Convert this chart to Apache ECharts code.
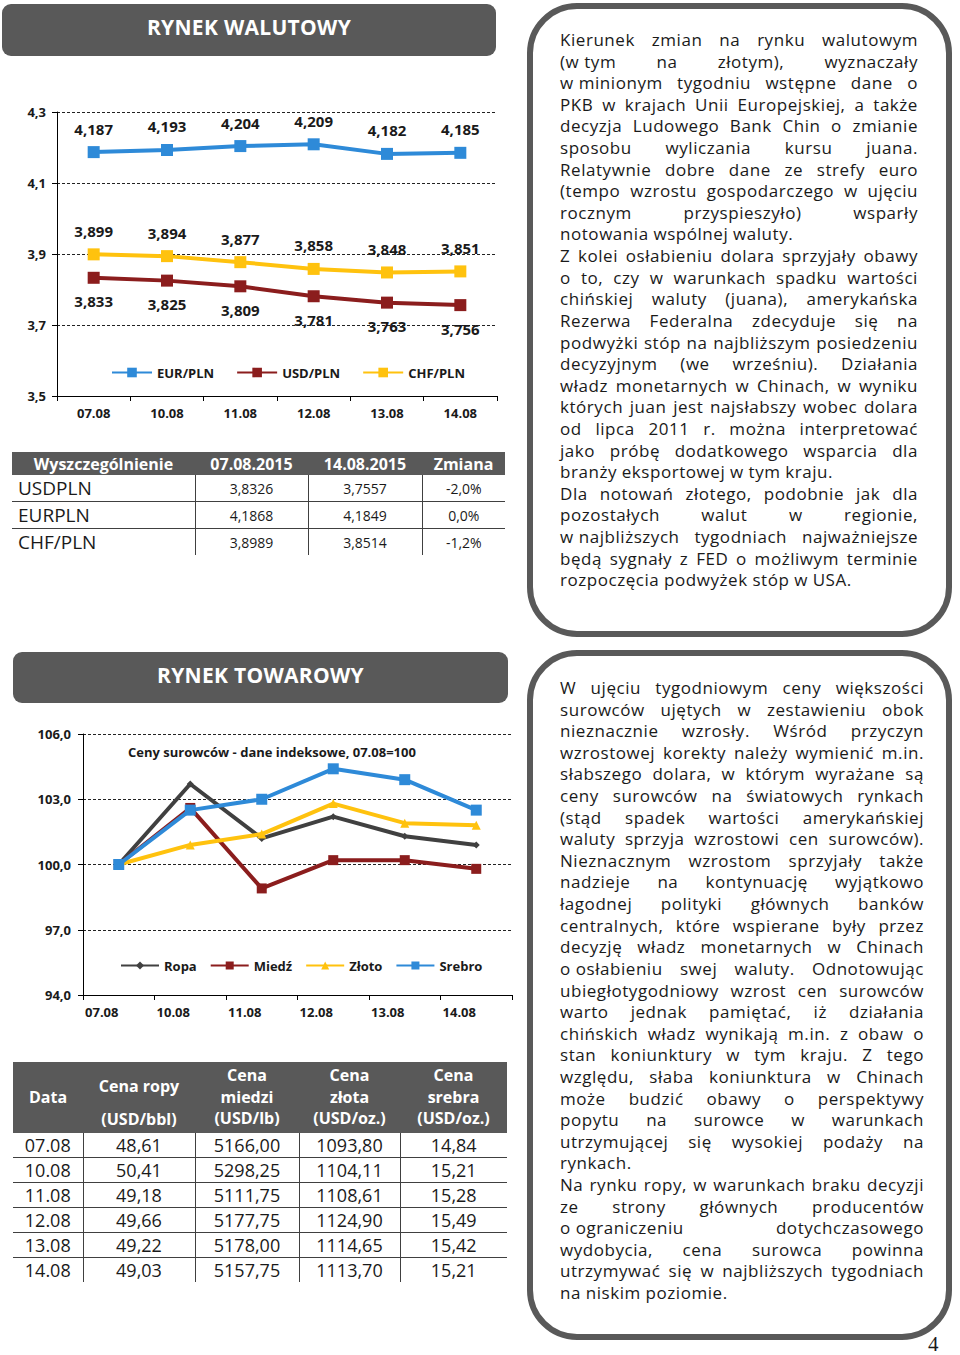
<!DOCTYPE html>
<html><head><meta charset="utf-8">
<script src="https://cdn.jsdelivr.net/npm/echarts@6/dist/echarts.min.js"></script>
<style>
body{margin:0;width:960px;height:1355px;background:#fff;position:relative;overflow:hidden;font-family:'Open Sans',sans-serif;color:#1a1a1a}
.hdr{position:absolute;background:#595959;border-radius:9px;color:#fff;font-weight:bold;font-size:21px;text-align:center;letter-spacing:0.3px}
.box{position:absolute;box-sizing:border-box;border:6px solid #595959;border-radius:50px}
.txt{position:absolute;font-size:17px;letter-spacing:0.55px;line-height:21.62px;color:#1a1a1a}
.ln{display:flex;justify-content:space-between;white-space:nowrap;height:21.62px}
.ln.last{justify-content:flex-start}
.ln.last span{margin-right:0.28em}
table{position:absolute;border-collapse:collapse;table-layout:fixed}
td,th{padding:0;overflow:visible;white-space:nowrap}
th{background:#595959;color:#fff;font-weight:bold}
#t1 td{border-right:1px solid #404040;border-top:1px solid #404040;height:24px}
#t1 tr:nth-child(2) td{border-top:none}
#t1 td:last-child{border-right:none}
#t2 td{border-right:1px solid #404040;border-top:1px solid #404040;height:24px}
#t2 tr:nth-child(2) td{border-top:none}
#t2 td:last-child{border-right:none}
</style></head>
<body>
<div class="hdr" style="left:2px;top:4px;width:494px;height:52px;line-height:46px">RYNEK WALUTOWY</div>
<div class="hdr" style="left:13px;top:652px;width:495px;height:51px;line-height:46px">RYNEK TOWAROWY</div>
<div id="fx" style="position:absolute;left:0;top:90px;width:510px;height:340px"></div>
<div id="cm" style="position:absolute;left:0;top:720px;width:520px;height:310px"></div>
<table id="t1" style="left:12px;top:452px;width:493px"></table>
<table id="t2" style="left:13px;top:1062px;width:494px"></table>
<div class="box" style="left:527px;top:3px;width:425px;height:634px"></div>
<div class="box" style="left:527px;top:650px;width:425px;height:690px"></div>
<div id="txt1" class="txt" style="left:560px;top:29px;width:358px"></div>
<div id="txt2" class="txt" style="left:560px;top:677px;width:364px"></div>
<div style="position:absolute;left:928px;top:1332px;font-family:'Liberation Serif',serif;font-size:21px;color:#1a1a1a">4</div>
<script>
// ---------- data ----------
const dates = ['07.08', '10.08', '11.08', '12.08', '13.08', '14.08'];
const eurPln = [4.187, 4.193, 4.204, 4.209, 4.182, 4.185];
const usdPln = [3.833, 3.825, 3.809, 3.781, 3.763, 3.756];
const chfPln = [3.899, 3.894, 3.877, 3.858, 3.848, 3.851];

const ropaIdx = [100, 103.7, 101.2, 102.2, 101.3, 100.9];
const miedzIdx = [100, 102.6, 98.9, 100.2, 100.2, 99.8];
const zlotoIdx = [100, 100.9, 101.4, 102.8, 101.9, 101.8];
const srebroIdx = [100, 102.5, 103.0, 104.4, 103.9, 102.5];

const fxHeaders = ['Wyszczególnienie', '07.08.2015', '14.08.2015', 'Zmiana'];
const fxNames = ['USDPLN', 'EURPLN', 'CHF/PLN'];
const fxStart = ['3,8326', '4,1868', '3,8989'];
const fxEnd = ['3,7557', '4,1849', '3,8514'];
const fxChange = ['-2,0%', '0,0%', '-1,2%'];

const cmHeaders = ['Data', 'Cena ropy|(USD/bbl)', 'Cena|miedzi|(USD/lb)', 'Cena|złota|(USD/oz.)', 'Cena|srebra|(USD/oz.)'];
const ropaPrice = ['48,61', '50,41', '49,18', '49,66', '49,22', '49,03'];
const miedzPrice = ['5166,00', '5298,25', '5111,75', '5177,75', '5178,00', '5157,75'];
const zlotoPrice = ['1093,80', '1104,11', '1108,61', '1124,90', '1114,65', '1113,70'];
const srebroPrice = ['14,84', '15,21', '15,28', '15,49', '15,42', '15,21'];

const text1 = [
 ['Kierunek zmian na rynku walutowym', '(w\u00A0tym na złotym), wyznaczały', 'w\u00A0minionym tygodniu wstępne dane o', 'PKB w krajach Unii Europejskiej, a także', 'decyzja Ludowego Bank Chin o zmianie', 'sposobu wyliczania kursu juana.', 'Relatywnie dobre dane ze strefy euro', '(tempo wzrostu gospodarczego w ujęciu', 'rocznym przyspieszyło) wsparły', 'notowania wspólnej waluty.'],
 ['Z kolei osłabieniu dolara sprzyjały obawy', 'o to, czy w warunkach spadku wartości', 'chińskiej waluty (juana), amerykańska', 'Rezerwa Federalna zdecyduje się na', 'podwyżki stóp na najbliższym posiedzeniu', 'decyzyjnym (we wrześniu). Działania', 'władz monetarnych w Chinach, w wyniku', 'których juan jest najsłabszy wobec dolara', 'od lipca 2011 r. można interpretować', 'jako próbę dodatkowego wsparcia dla', 'branży eksportowej w tym kraju.'],
 ['Dla notowań złotego, podobnie jak dla', 'pozostałych walut w regionie,', 'w\u00A0najbliższych tygodniach najważniejsze', 'będą sygnały z FED o możliwym terminie', 'rozpoczęcia podwyżek stóp w USA.']
];
const text2 = [
 ['W ujęciu tygodniowym ceny większości', 'surowców ujętych w zestawieniu obok', 'nieznacznie wzrosły. Wśród przyczyn', 'wzrostowej korekty należy wymienić m.in.', 'słabszego dolara, w którym wyrażane są', 'ceny surowców na światowych rynkach', '(stąd spadek wartości amerykańskiej', 'waluty sprzyja wzrostowi cen surowców).', 'Nieznacznym wzrostom sprzyjały także', 'nadzieje na kontynuację wyjątkowo', 'łagodnej polityki głównych banków', 'centralnych, które wspierane były przez', 'decyzję władz monetarnych w Chinach', 'o\u00A0osłabieniu swej waluty. Odnotowując', 'ubiegłotygodniowy wzrost cen surowców', 'warto jednak pamiętać, iż działania', 'chińskich władz wynikają m.in. z obaw o', 'stan koniunktury w tym kraju. Z tego', 'względu, słaba koniunktura w Chinach', 'może budzić obawy o perspektywy', 'popytu na surowce w warunkach', 'utrzymującej się wysokiej podaży na', 'rynkach.'],
 ['Na rynku ropy, w warunkach braku decyzji', 'ze strony głównych producentów', 'o\u00A0ograniczeniu dotychczasowego', 'wydobycia, cena surowca powinna', 'utrzymywać się w najbliższych tygodniach', 'na niskim poziomie.']
];

// ---------- text ----------
function renderText(id, paras) {
  const el = document.getElementById(id);
  paras.forEach(p => p.forEach((line, i) => {
    const d = document.createElement('div');
    d.className = 'ln' + (i === p.length - 1 ? ' last' : '');
    line.split(' ').forEach(w => { const s = document.createElement('span'); s.textContent = w; d.appendChild(s); });
    el.appendChild(d);
  }));
}
renderText('txt1', text1);
renderText('txt2', text2);

// ---------- tables ----------
(function () {
  const t = document.getElementById('t1');
  const widths = [183, 113, 114, 83];
  let h = '<colgroup>' + widths.map(w => `<col style="width:${w}px">`).join('') + '</colgroup>';
  h += '<tr>' + fxHeaders.map(x => `<th style="height:23px;font-size:16px;text-align:center">${x}</th>`).join('') + '</tr>';
  fxNames.forEach((n, i) => {
    h += `<tr><td style="font-size:19px;text-align:left;padding-left:6px">${n}</td>` +
      `<td style="font-size:14px;text-align:center">${fxStart[i]}</td>` +
      `<td style="font-size:14px;text-align:center">${fxEnd[i]}</td>` +
      `<td style="font-size:14px;text-align:center">${fxChange[i]}</td></tr>`;
  });
  t.innerHTML = h;
})();
(function () {
  const t = document.getElementById('t2');
  const widths = [70, 112, 104, 101, 107];
  let h = '<colgroup>' + widths.map(w => `<col style="width:${w}px">`).join('') + '</colgroup>';
  h += '<tr>' + cmHeaders.map((x, i) => {
    const parts = x.split('|');
    if (parts.length === 2) {
      return `<th style="height:68px;font-size:16px;line-height:21px;vertical-align:bottom;padding-bottom:3px;text-align:center"><div>${parts[0]}</div><div style="margin-top:12px">${parts[1]}</div></th>`;
    }
    return `<th style="height:68px;font-size:16px;line-height:21.5px;text-align:center">${parts.join('<br>')}</th>`;
  }).join('') + '</tr>';
  dates.forEach((d, i) => {
    h += `<tr><td style="font-size:18px;text-align:center">${d}</td>` +
      [ropaPrice, miedzPrice, zlotoPrice, srebroPrice].map(a => `<td style="font-size:18px;text-align:center">${a[i]}</td>`).join('') + '</tr>';
  });
  t.innerHTML = h;
})();

// ---------- charts ----------
const FONT = "'Open Sans', sans-serif";
const dark = '#1a1a1a';

const fx = echarts.init(document.getElementById('fx'), null, { renderer: 'svg' });
function fxSeries(name, data, color, pos) {
  return {
    name, type: 'line', data, symbol: 'rect', symbolSize: 12,
    itemStyle: { color }, lineStyle: { color, width: 4 },
    label: { show: true, position: pos, distance: 10, color: dark, fontWeight: 'bold', fontSize: 15, fontFamily: FONT,
      formatter: p => p.value.toFixed(3).replace('.', ',') }
  };
}
fx.setOption({
  animation: false,
  textStyle: { fontFamily: FONT },
  grid: { left: 57, right: 13, top: 22, bottom: 34 },
  legend: {
    left: 106, top: 271, itemWidth: 40, itemHeight: 12, itemGap: 22,
    textStyle: { fontWeight: 'bold', fontSize: 13, color: dark, fontFamily: FONT },
    data: ['EUR/PLN', 'USD/PLN', 'CHF/PLN']
  },
  xAxis: {
    type: 'category', data: dates,
    axisLine: { lineStyle: { color: '#000', width: 1 } },
    axisTick: { show: true, length: 5, lineStyle: { color: '#000' } },
    axisLabel: { fontWeight: 'bold', fontSize: 13, color: dark, margin: 10, fontFamily: FONT }
  },
  yAxis: {
    type: 'value', min: 3.5, max: 4.3, interval: 0.2,
    axisLine: { show: true, lineStyle: { color: '#000' } },
    axisTick: { show: true, length: 5, lineStyle: { color: '#000' } },
    axisLabel: { fontWeight: 'bold', fontSize: 13, color: dark, margin: 11, fontFamily: FONT,
      formatter: v => v.toFixed(1).replace('.', ',') },
    splitLine: { lineStyle: { color: '#222', type: [3, 2], width: 1 } }
  },
  series: [
    fxSeries('EUR/PLN', eurPln, '#2e8ad8', 'top'),
    fxSeries('USD/PLN', usdPln, '#8b1d1d', 'bottom'),
    fxSeries('CHF/PLN', chfPln, '#ffc20e', 'top')
  ]
});

const cm = echarts.init(document.getElementById('cm'), null, { renderer: 'svg' });
function cmSeries(name, data, color, symbol, size) {
  return { name, type: 'line', data, symbol, symbolSize: size, itemStyle: { color }, lineStyle: { color, width: 4 } };
}
cm.setOption({
  animation: false,
  textStyle: { fontFamily: FONT },
  title: { text: 'Ceny surowców - dane indeksowe, 07.08=100', left: 123, top: 20,
    textStyle: { fontSize: 13, fontWeight: 'bold', color: dark, fontFamily: FONT } },
  grid: { left: 83, right: 8, top: 14, bottom: 35 },
  legend: {
    left: 115, top: 234, itemWidth: 38, itemHeight: 10, itemGap: 13,
    textStyle: { fontWeight: 'bold', fontSize: 13, color: dark, fontFamily: FONT },
    data: ['Ropa', 'Miedź', 'Złoto', 'Srebro']
  },
  xAxis: {
    type: 'category', data: dates,
    axisLine: { lineStyle: { color: '#000', width: 1 } },
    axisTick: { show: true, length: 5, lineStyle: { color: '#000' } },
    axisLabel: { fontWeight: 'bold', fontSize: 13, color: dark, margin: 10, fontFamily: FONT, padding: [0, 34, 0, 0] }
  },
  yAxis: {
    type: 'value', min: 94, max: 106, interval: 3,
    axisLine: { show: true, lineStyle: { color: '#000' } },
    axisTick: { show: true, length: 5, lineStyle: { color: '#000' } },
    axisLabel: { fontWeight: 'bold', fontSize: 13, color: dark, margin: 12, fontFamily: FONT,
      formatter: v => v.toFixed(1).replace('.', ',') },
    splitLine: { lineStyle: { color: '#222', type: [3, 2], width: 1 } }
  },
  series: [
    cmSeries('Ropa', ropaIdx, '#404040', 'diamond', 7),
    cmSeries('Miedź', miedzIdx, '#8b1d1d', 'rect', 10),
    cmSeries('Złoto', zlotoIdx, '#ffc20e', 'triangle', 9),
    cmSeries('Srebro', srebroIdx, '#2e8ad8', 'rect', 11)
  ]
});
</script>
</body></html>
